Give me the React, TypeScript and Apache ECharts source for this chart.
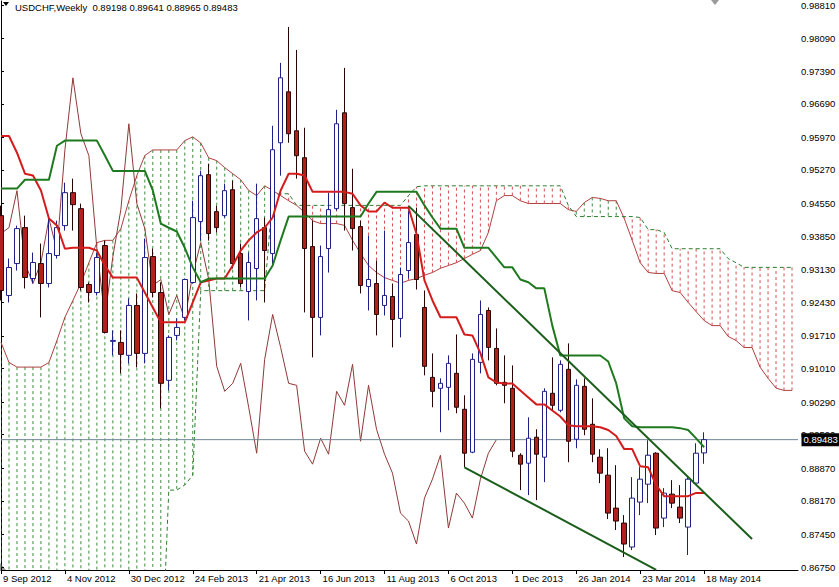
import React, { useEffect, useRef } from "react";
import * as echarts from "echarts";

// ---------- DATA ----------
const headerText = "USDCHF,Weekly  0.89198 0.89641 0.88965 0.89483";
const lastPrice = 0.89483;

const dateLabels = [
  "9 Sep 2012", "4 Nov 2012", "30 Dec 2012", "24 Feb 2013", "21 Apr 2013", "16 Jun 2013",
  "11 Aug 2013", "6 Oct 2013", "1 Dec 2013", "26 Jan 2014", "23 Mar 2014", "18 May 2014",
];
const labelBars = [0, 8, 16, 24, 32, 40, 48, 56, 64, 72, 80, 88];

const priceTicks = [
  0.8675, 0.8745, 0.8817, 0.8887, 0.8959, 0.9029, 0.9101, 0.9171, 0.9243,
  0.9313, 0.9385, 0.9455, 0.9527, 0.9597, 0.9669, 0.9739, 0.9809, 0.9881,
];

const opens = [
  0.94290, 0.92577, 0.93262, 0.94033, 0.92941, 0.93262, 0.92834, 0.93434, 0.94076, 0.94783,
  0.94440, 0.92812, 0.92641, 0.93648, 0.91592, 0.91570, 0.91292, 0.92363, 0.91334, 0.93412,
  0.92641, 0.90756, 0.91720, 0.92106, 0.92855, 0.94162, 0.95169, 0.94376, 0.94290, 0.94847,
  0.93476, 0.92662, 0.93155, 0.94033, 0.93476, 0.95854, 0.96947, 0.96111, 0.95533, 0.93626,
  0.92106, 0.93584, 0.94440, 0.96497, 0.94462, 0.94055, 0.92770, 0.92834, 0.92363, 0.92555,
  0.92084, 0.93112, 0.93883, 0.92320, 0.90820, 0.90585, 0.90606, 0.90906, 0.90135, 0.89214,
  0.91142, 0.92255, 0.91441, 0.90713, 0.90585, 0.89149, 0.88978, 0.89535, 0.89107, 0.90478,
  0.90113, 0.90992, 0.89492, 0.90627, 0.89813, 0.89107, 0.88721, 0.88014, 0.87693, 0.87179,
  0.88143, 0.88528, 0.89192, 0.87800, 0.88314, 0.88036, 0.87607, 0.88550, 0.89198,
];
const closes = [
  0.92684, 0.93177, 0.94012, 0.92962, 0.93284, 0.92834, 0.93476, 0.94033, 0.94783, 0.94526,
  0.92748, 0.92641, 0.93391, 0.91784, 0.91613, 0.91313, 0.92363, 0.91334, 0.93391, 0.92641,
  0.90692, 0.91677, 0.91891, 0.92920, 0.94248, 0.95147, 0.93905, 0.94033, 0.94826, 0.93262,
  0.92834, 0.93284, 0.94226, 0.93541, 0.95704, 0.97247, 0.96047, 0.95576, 0.93584, 0.92106,
  0.93412, 0.94419, 0.96261, 0.94548, 0.94012, 0.92791, 0.92920, 0.92170, 0.92577, 0.92063,
  0.93027, 0.93712, 0.92920, 0.91056, 0.90520, 0.90692, 0.91120, 0.90178, 0.89192, 0.91206,
  0.92170, 0.91463, 0.90692, 0.90649, 0.89235, 0.88957, 0.89514, 0.89171, 0.90520, 0.90220,
  0.91099, 0.89449, 0.90649, 0.89706, 0.89171, 0.88764, 0.87907, 0.87736, 0.87243, 0.88228,
  0.88635, 0.89149, 0.87586, 0.88335, 0.88121, 0.87800, 0.88635, 0.89192, 0.89483,
];
const lows = [
  0.92470, 0.92427, 0.93112, 0.92727, 0.92834, 0.92106, 0.92748, 0.93369, 0.93969, 0.93969,
  0.92684, 0.92427, 0.92577, 0.91763, 0.91292, 0.90906, 0.91120, 0.91035, 0.91120, 0.92534,
  0.90156, 0.90542, 0.91613, 0.92041, 0.92834, 0.93755, 0.93755, 0.93926, 0.94248, 0.93155,
  0.92748, 0.92041, 0.92470, 0.92427, 0.93219, 0.95147, 0.95854, 0.95083, 0.92213, 0.91249,
  0.91720, 0.93069, 0.94398, 0.93969, 0.93541, 0.92620, 0.92255, 0.91720, 0.92148, 0.91463,
  0.91677, 0.92941, 0.92705, 0.90863, 0.90178, 0.89642, 0.90113, 0.90049, 0.88892, 0.89192,
  0.90906, 0.91184, 0.90649, 0.90263, 0.89107, 0.88400, 0.88293, 0.88185, 0.88571, 0.90113,
  0.90071, 0.88999, 0.89299, 0.89578, 0.88999, 0.88550, 0.87779, 0.87543, 0.86964, 0.87114,
  0.87864, 0.88121, 0.87436, 0.87607, 0.88014, 0.87693, 0.87007, 0.88550, 0.88965,
];
const highs = [
  0.94505, 0.93369, 0.94076, 0.94290, 0.93498, 0.93691, 0.94248, 0.94183, 0.94997, 0.95083,
  0.94548, 0.92855, 0.93498, 0.93755, 0.91827, 0.91827, 0.92513, 0.92620, 0.93798, 0.93584,
  0.92855, 0.91720, 0.92084, 0.92941, 0.94612, 0.95254, 0.95404, 0.94505, 0.94976, 0.95040,
  0.93691, 0.93498, 0.94976, 0.94248, 0.96218, 0.97568, 0.98339, 0.97846, 0.96176, 0.94183,
  0.93648, 0.94783, 0.96561, 0.97461, 0.95297, 0.94183, 0.93862, 0.93327, 0.93969, 0.92834,
  0.93177, 0.94398, 0.94462, 0.92684, 0.91334, 0.90799, 0.91292, 0.91741, 0.90435, 0.91334,
  0.92470, 0.92320, 0.91870, 0.91292, 0.91077, 0.89192, 0.89963, 0.89706, 0.90585, 0.91249,
  0.91184, 0.91549, 0.90777, 0.90799, 0.90370, 0.89278, 0.89299, 0.88935, 0.87864, 0.88678,
  0.88892, 0.89471, 0.89214, 0.88443, 0.88614, 0.88507, 0.88678, 0.89406, 0.89641,
];

const tenkan = [
  0.9600, 0.9600, 0.9564, 0.9519, 0.9515, 0.9483, 0.9423, 0.9408, 0.9358, 0.9360,
  0.9360, 0.9360, 0.9354, 0.9322, 0.9296, 0.9296, 0.9296, 0.9296, 0.9264, 0.9232,
  0.9200, 0.9200, 0.9200, 0.9200, 0.9243, 0.9286, 0.9290, 0.9294, 0.9294, 0.9322,
  0.9354, 0.9376, 0.9393, 0.9403, 0.9425, 0.9483, 0.9519, 0.9519, 0.9515, 0.9480,
  0.9480, 0.9480, 0.9480, 0.9480, 0.9476, 0.9451, 0.9438, 0.9438, 0.9457, 0.9446,
  0.9446, 0.9446, 0.9390, 0.9290, 0.9247, 0.9211, 0.9211, 0.9211, 0.9174, 0.9172,
  0.9134, 0.9082, 0.9071, 0.9069, 0.9069, 0.9054, 0.9039, 0.9024, 0.9024, 0.9011,
  0.8998, 0.8979, 0.8977, 0.8977, 0.8977, 0.8975, 0.8969, 0.8956, 0.8928, 0.8928,
  0.8891, 0.8889, 0.8851, 0.8827, 0.8827, 0.8827, 0.8827, 0.8834, 0.8834,
];
const kijun = [
  0.9487, 0.9487, 0.9487, 0.9506, 0.9506, 0.9506, 0.9506, 0.9579, 0.9590, 0.9590,
  0.9590, 0.9590, 0.9590, 0.9558, 0.9525, 0.9525, 0.9525, 0.9525, 0.9525, 0.9483,
  0.9412, 0.9403, 0.9395, 0.9360, 0.9318, 0.9286, 0.9294, 0.9294, 0.9294, 0.9294,
  0.9294, 0.9294, 0.9294, 0.9294, 0.9322, 0.9376, 0.9427, 0.9427, 0.9427, 0.9427,
  0.9427, 0.9427, 0.9427, 0.9427, 0.9427, 0.9427, 0.9455, 0.9480, 0.9480, 0.9480,
  0.9480, 0.9480, 0.9480, 0.9451, 0.9425, 0.9401, 0.9401, 0.9401, 0.9360, 0.9360,
  0.9360, 0.9360, 0.9339, 0.9318, 0.9318, 0.9292, 0.9286, 0.9273, 0.9273, 0.9193,
  0.9129, 0.9129, 0.9129, 0.9129, 0.9129, 0.9129, 0.9116, 0.9069, 0.8994, 0.8977,
  0.8975, 0.8975, 0.8975, 0.8975, 0.8975, 0.8973, 0.8969, 0.8951, 0.8932,
];
const spanA = [
  0.9157, 0.9114, 0.9104, 0.9104, 0.9104, 0.9104, 0.9114, 0.9161, 0.9211, 0.9247,
  0.9284, 0.9328, 0.9371, 0.9376, 0.9376, 0.9401, 0.9461, 0.9515, 0.9558, 0.9570,
  0.9570, 0.9570, 0.9570, 0.9590, 0.9598, 0.9585, 0.9553, 0.9547, 0.9532, 0.9519,
  0.9506, 0.9483, 0.9472, 0.9493, 0.9483, 0.9472, 0.9461, 0.9451, 0.9436, 0.9418,
  0.9412, 0.9412, 0.9412, 0.9408, 0.9376, 0.9348, 0.9322, 0.9307, 0.9296, 0.9290,
  0.9284, 0.9290, 0.9294, 0.9301, 0.9307, 0.9316, 0.9322, 0.9328, 0.9337, 0.9346,
  0.9354, 0.9393, 0.9461, 0.9472, 0.9472, 0.9461, 0.9455, 0.9455, 0.9455, 0.9455,
  0.9455, 0.9442, 0.9438, 0.9457, 0.9468, 0.9466, 0.9461, 0.9461, 0.9423, 0.9376,
  0.9328, 0.9307, 0.9305, 0.9305, 0.9268, 0.9264, 0.9243, 0.9223, 0.9204, 0.9193,
  0.9193, 0.9170, 0.9161, 0.9146, 0.9146, 0.9104, 0.9080, 0.9059, 0.9054, 0.9054,
];
const spanB = [
  0.8420, 0.8420, 0.8420, 0.8420, 0.8420, 0.8420, 0.8420, 0.8420, 0.8420, 0.8420,
  0.8420, 0.8420, 0.8420, 0.8420, 0.8420, 0.8420, 0.8420, 0.8420, 0.8420, 0.8420,
  0.8420, 0.8840, 0.8840, 0.8851, 0.8872, 0.9268, 0.9268, 0.9268, 0.9268, 0.9268,
  0.9268, 0.9268, 0.9268, 0.9268, 0.9472, 0.9476, 0.9476, 0.9451, 0.9451, 0.9451,
  0.9451, 0.9451, 0.9451, 0.9451, 0.9451, 0.9451, 0.9451, 0.9451, 0.9451, 0.9451,
  0.9451, 0.9472, 0.9491, 0.9493, 0.9493, 0.9493, 0.9493, 0.9493, 0.9493, 0.9493,
  0.9493, 0.9493, 0.9493, 0.9493, 0.9493, 0.9493, 0.9493, 0.9493, 0.9493, 0.9493,
  0.9493, 0.9451, 0.9427, 0.9427, 0.9427, 0.9427, 0.9427, 0.9427, 0.9427, 0.9427,
  0.9425, 0.9399, 0.9399, 0.9393, 0.9358, 0.9358, 0.9358, 0.9358, 0.9358, 0.9358,
  0.9358, 0.9337, 0.9328, 0.9318, 0.9318, 0.9318, 0.9318, 0.9318, 0.9318, 0.9318,
];
const chikouShift = 26;

const upperTrend = [[51, 0.9450], [94, 0.8735]];
const lowerTrend = [[58, 0.8889], [82, 0.8669]];

// ---------- STYLE ----------
const FONT = "'Liberation Sans', Arial, sans-serif";
const W = 839;
const H = 587;

export default function App() {
  const ref = useRef<HTMLDivElement>(null);

  useEffect(() => {
    document.body.style.margin = "0";
    if (!ref.current) return;
    const chart = echarts.init(ref.current, undefined, { renderer: "svg" });

    const candleData = opens.map((o, i) => [i, o, closes[i], lows[i], highs[i]]);
    const pairs = (arr: number[]) => arr.map((v, i) => [i, v]);
    const chikou = closes.slice(chikouShift).map((v, i) => [i, v]);
    const cloud = spanA.map((a, i) => [i, a, spanB[i]]);

    const option: any = {
      animation: false,
      backgroundColor: "#ffffff",
      grid: { left: 0, top: 0, right: 41, bottom: 17, containLabel: false },
      xAxis: {
        type: "value",
        min: 0,
        max: 99.75,
        axisLine: { show: true, lineStyle: { color: "#000", width: 1 } },
        axisTick: { show: true, customValues: labelBars, length: 4, lineStyle: { color: "#000" } },
        axisLabel: {
          show: true,
          customValues: labelBars,
          formatter: (v: number) => {
            const k = labelBars.indexOf(Math.round(v));
            return k >= 0 ? dateLabels[k] : "";
          },
          align: "left",
          margin: 3,
          padding: [0, 0, 0, 2],
          color: "#000",
          fontSize: 9.5,
          fontFamily: FONT,
        },
        splitLine: { show: false },
      },
      yAxis: {
        type: "value",
        position: "right",
        min: 0.86686,
        max: 0.98896,
        axisLine: { show: true, lineStyle: { color: "#000", width: 1 } },
        axisTick: { show: true, customValues: priceTicks, length: 3, lineStyle: { color: "#000" } },
        axisLabel: {
          show: true,
          customValues: priceTicks,
          formatter: (v: number) => v.toFixed(5),
          margin: 3,
          color: "#000",
          fontSize: 9.5,
          fontFamily: FONT,
        },
        splitLine: { show: false },
      },
      series: [
        {
          type: "custom",
          name: "cloud",
          clip: true,
          silent: true,
          data: cloud,
          encode: { x: 0, y: [1, 2] },
          renderItem: (params: any, api: any) => {
            const i = api.value(0);
            const a = api.value(1);
            const b = api.value(2);
            const p1 = api.coord([i, a]);
            const p2 = api.coord([i, b]);
            return {
              type: "line",
              shape: { x1: p1[0], y1: p1[1], x2: p2[0], y2: p2[1] },
              style: { stroke: a >= b ? "#3c8a3c" : "#d65050", lineWidth: 1, lineDash: [3, 3] },
            };
          },
          z: 1,
        },
        {
          type: "line",
          name: "spanA",
          data: pairs(spanA),
          showSymbol: false,
          silent: true,
          lineStyle: { color: "#b04040", width: 1 },
          z: 2,
        },
        {
          type: "line",
          name: "spanB",
          data: pairs(spanB),
          showSymbol: false,
          silent: true,
          lineStyle: { color: "#2d7d2d", width: 1, type: [4, 3] },
          z: 2,
        },
        {
          type: "line",
          name: "chikou",
          data: chikou,
          showSymbol: false,
          silent: true,
          lineStyle: { color: "#8e3a36", width: 1 },
          z: 3,
        },
        {
          type: "line",
          name: "priceLine",
          data: [[0, lastPrice], [99.75, lastPrice]],
          showSymbol: false,
          silent: true,
          lineStyle: { color: "#6f8597", width: 1 },
          markPoint: {
            silent: true,
            symbol: "rect",
            symbolSize: [1, 1],
            itemStyle: { color: "rgba(0,0,0,0)" },
            label: {
              show: true,
              position: "right",
              distance: 3,
              formatter: lastPrice.toFixed(5),
              backgroundColor: "#000",
              color: "#fff",
              padding: [2, 2, 1, 2],
              fontSize: 9.5,
              fontFamily: FONT,
            },
            data: [{ coord: [99.75, lastPrice] }],
          },
          z: 3,
        },
        {
          type: "candlestick",
          name: "USDCHF",
          data: candleData,
          encode: { x: 0, y: [1, 2, 3, 4] },
          barWidth: 5,
          silent: true,
          itemStyle: {
            color: "#ffffff",
            color0: "#b3201c",
            borderColor: "#1f1f88",
            borderColor0: "#2a0505",
            borderWidth: 1,
          },
          z: 4,
        },
        {
          type: "line",
          name: "tenkan",
          data: pairs(tenkan),
          showSymbol: false,
          silent: true,
          lineStyle: { color: "#d41c1c", width: 2 },
          z: 5,
        },
        {
          type: "line",
          name: "kijun",
          data: pairs(kijun),
          showSymbol: false,
          silent: true,
          lineStyle: { color: "#1f7a1f", width: 2 },
          z: 5,
        },
        {
          type: "line",
          name: "trendUpper",
          data: upperTrend,
          showSymbol: false,
          silent: true,
          lineStyle: { color: "#1b5e1b", width: 2 },
          z: 6,
        },
        {
          type: "line",
          name: "trendLower",
          data: lowerTrend,
          showSymbol: false,
          silent: true,
          lineStyle: { color: "#1b5e1b", width: 2 },
          z: 6,
        },
      ],
      graphic: [
        {
          type: "polygon",
          shape: { points: [[3, 2], [9, 2], [6, 6]] },
          style: { fill: "#000" },
          silent: true,
        },
        {
          type: "text",
          x: 15,
          y: 7,
          style: {
            text: headerText,
            fill: "#000",
            font: `9.5px ${FONT}`,
            verticalAlign: "middle",
            align: "left",
          },
          silent: true,
        },
        {
          type: "polygon",
          shape: { points: [[711, 0], [719, 0], [715, 5]] },
          style: { fill: "#9a9a9a" },
          silent: true,
        },
        {
          type: "polygon",
          shape: { points: [[0, 563], [0, 570], [6, 570]] },
          style: { fill: "#9a9a9a" },
          silent: true,
        },
      ],
    };

    chart.setOption(option);
    return () => chart.dispose();
  }, []);

  return (
    <div
      ref={ref}
      style={{ position: "absolute", left: 0, top: 0, width: W, height: H, background: "#fff" }}
    />
  );
}
